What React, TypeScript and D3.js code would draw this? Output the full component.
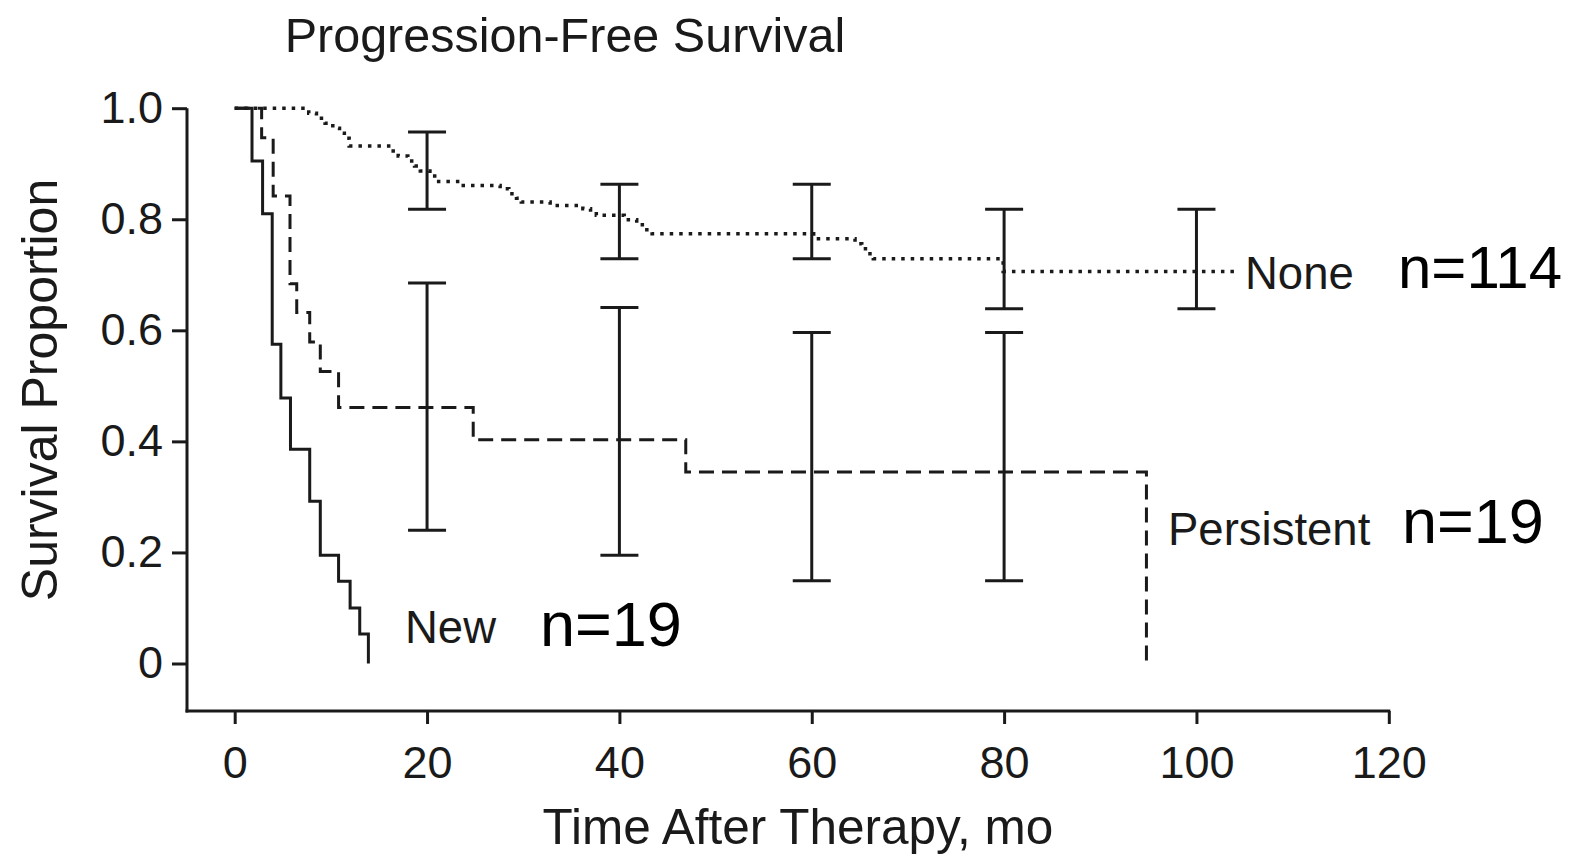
import React, { useRef, useEffect } from 'react';
import * as d3 from 'd3';

// Kaplan-Meier steps (months, survival proportion)
const noneTimes = [0, 7.7, 8.5, 9.4, 10.2, 10.9, 11.4, 11.9, 16.2, 17.0, 18.0, 18.7, 19.3, 20.3, 21.0, 23.4, 27.6, 28.5, 29.3, 29.8, 32.8, 36.2, 37.0, 37.6, 40.5, 41.8, 42.6, 43.4, 60.2, 64.5, 65.2, 65.8, 66.4, 79.9];
const noneSurv = [1, 0.991, 0.982, 0.973, 0.964, 0.955, 0.946, 0.932, 0.923, 0.914, 0.905, 0.896, 0.887, 0.878, 0.868, 0.861, 0.855, 0.846, 0.838, 0.831, 0.825, 0.819, 0.813, 0.807, 0.799, 0.79, 0.781, 0.774, 0.765, 0.756, 0.747, 0.738, 0.729, 0.706];
const noneEnd = 104;

const persTimes = [0, 2.8, 4.0, 5.75, 6.45, 7.8, 8.9, 10.8, 24.8, 46.9, 94.8];
const persSurv = [1, 0.947, 0.842, 0.684, 0.632, 0.579, 0.526, 0.461, 0.403, 0.345, 0];

const newTimes = [0, 1.8, 2.9, 3.9, 4.8, 5.8, 7.8, 8.9, 10.8, 12.0, 13.0, 13.9];
const newSurv = [1, 0.905, 0.81, 0.575, 0.478, 0.386, 0.292, 0.195, 0.148, 0.1, 0.053, 0];

// confidence intervals
const noneCiTimes = [20, 40, 60, 80, 100];
const noneCiLo = [0.818, 0.729, 0.729, 0.639, 0.639];
const noneCiHi = [0.957, 0.863, 0.863, 0.818, 0.818];

const persCiTimes = [20, 40, 60, 80];
const persCiLo = [0.24, 0.195, 0.149, 0.149];
const persCiHi = [0.685, 0.641, 0.596, 0.596];

const xTicks = [0, 20, 40, 60, 80, 100, 120];
const yTicks = [0, 0.2, 0.4, 0.6, 0.8, 1.0];

const FONT = '"Liberation Sans", Arial, Helvetica, sans-serif';
const INK = '#1a1a1a';

export default function App() {
  const ref = useRef<SVGSVGElement>(null);
  const width = 1586;
  const height = 857;

  useEffect(() => {
    const svg = d3.select(ref.current);
    svg.selectAll('*').remove();

    const x = d3.scaleLinear().domain([0, 120]).range([234.7, 1388.8]);
    const y = d3.scaleLinear().domain([0, 1]).range([663.5, 108.2]);
    const axisX = 187;
    const axisY = 711;

    // axis lines
    svg.append('line')
      .attr('x1', axisX).attr('x2', axisX)
      .attr('y1', y(1)).attr('y2', axisY + 1.5)
      .attr('stroke', INK).attr('stroke-width', 3);
    svg.append('line')
      .attr('x1', axisX - 1.5).attr('x2', x(120) + 1.5)
      .attr('y1', axisY).attr('y2', axisY)
      .attr('stroke', INK).attr('stroke-width', 3);

    const yAxis = svg.append('g')
      .attr('transform', `translate(${axisX},0)`)
      .call(d3.axisLeft(y).tickValues(yTicks).tickSize(15).tickPadding(9)
        .tickFormat(d => (+d === 0 ? '0' : d3.format('.1f')(+d))));
    yAxis.select('.domain').remove();

    const xAxis = svg.append('g')
      .attr('transform', `translate(0,${axisY})`)
      .call(d3.axisBottom(x).tickValues(xTicks).tickSize(13).tickPadding(22));
    xAxis.select('.domain').remove();

    svg.selectAll('.tick line').attr('stroke', INK).attr('stroke-width', 3);
    svg.selectAll('.tick text')
      .attr('fill', INK)
      .style('font-family', FONT)
      .style('font-size', '45px');

    // survival curves
    const step = d3.line<[number, number]>()
      .x(d => x(d[0]))
      .y(d => y(d[1]))
      .curve(d3.curveStepAfter);

    const nonePts: [number, number][] = noneTimes.map((t, i) => [t, noneSurv[i]]);
    nonePts.push([noneEnd, noneSurv[noneSurv.length - 1]]);
    const persPts: [number, number][] = persTimes.map((t, i) => [t, persSurv[i]]);
    const newPts: [number, number][] = newTimes.map((t, i) => [t, newSurv[i]]);

    const ciSeries = [
      { t: noneCiTimes, lo: noneCiLo, hi: noneCiHi },
      { t: persCiTimes, lo: persCiLo, hi: persCiHi },
    ];
    ciSeries.forEach(s => {
      s.t.forEach((t, i) => {
        const g = svg.append('g').attr('stroke', INK).attr('stroke-width', 3);
        g.append('line').attr('x1', x(t)).attr('x2', x(t)).attr('y1', y(s.hi[i])).attr('y2', y(s.lo[i]));
        g.append('line').attr('x1', x(t) - 19).attr('x2', x(t) + 19).attr('y1', y(s.hi[i])).attr('y2', y(s.hi[i]));
        g.append('line').attr('x1', x(t) - 19).attr('x2', x(t) + 19).attr('y1', y(s.lo[i])).attr('y2', y(s.lo[i]));
      });
    });

    svg.append('path').attr('d', step(nonePts)).attr('fill', 'none')
      .attr('stroke', INK).attr('stroke-width', 3.5).attr('stroke-dasharray', '3.5 6');
    svg.append('path').attr('d', step(persPts)).attr('fill', 'none')
      .attr('stroke', INK).attr('stroke-width', 3).attr('stroke-dasharray', '15 8');
    svg.append('path').attr('d', step(newPts)).attr('fill', 'none')
      .attr('stroke', INK).attr('stroke-width', 3);

    const text = (tx: number, ty: number, s: string, size: number, anchor = 'start', color = INK) =>
      svg.append('text')
        .attr('x', tx).attr('y', ty)
        .attr('text-anchor', anchor)
        .attr('fill', color)
        .style('font-family', FONT)
        .style('font-size', `${size}px`)
        .text(s);

    // titles
    text(565, 52, 'Progression-Free Survival', 48.5, 'middle');
    text(798, 844, 'Time After Therapy, mo', 49.5, 'middle');
    text(0, 0, 'Survival Proportion', 50, 'middle')
      .attr('transform', 'translate(57,390) rotate(-90)');

    // curve labels
    text(1245, 289, 'None', 45.5);
    text(1168, 545, 'Persistent', 45.5);
    text(405, 643, 'New', 45.5);

    text(1398, 288, 'n=114', 60, 'start', '#000');
    text(1402, 543, 'n=19', 63, 'start', '#000');
    text(540, 646, 'n=19', 63, 'start', '#000');
  }, []);

  return (
    <svg ref={ref} width={width} height={height}
      style={{ position: 'absolute', left: 0, top: 0, background: '#fff' }} />
  );
}
